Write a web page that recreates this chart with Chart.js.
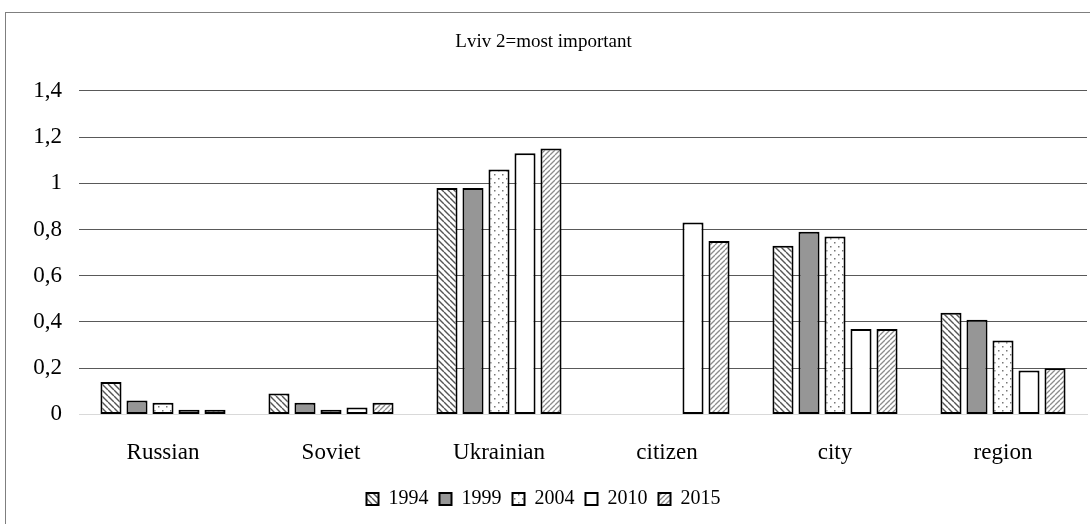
<!DOCTYPE html>
<html>
<head>
    <title>Lviv 2=most important</title>
    <script src="https://cdn.jsdelivr.net/npm/chart.js"></script>
    <style>
        body {
            margin: 0;
            background: #fff;
        }
        #chartContainer {
            position: relative;
            width: 1090px;
            height: 524px;
        }
    </style>
</head>
<body>
    <div id="chartContainer">
        <canvas id="myChart" width="1090" height="524"></canvas>
    </div>

    <script>
        // Values
        const categories = ['Russian', 'Soviet', 'Ukrainian', 'citizen', 'city', 'region'];
        const years = ['1994', '1999', '2004', '2010', '2015'];
        const v1994 = [0.14, 0.09, 0.98, null, 0.73, 0.44];
        const v1999 = [0.06, 0.05, 0.98, null, 0.79, 0.41];
        const v2004 = [0.05, 0.02, 1.06, null, 0.77, 0.32];
        const v2010 = [0.02, 0.03, 1.13, 0.83, 0.37, 0.19];
        const v2015 = [0.02, 0.05, 1.15, 0.75, 0.37, 0.20];
        const yTicks = [0, 0.2, 0.4, 0.6, 0.8, 1, 1.2, 1.4];

        const FONT = 'Liberation Serif, Times New Roman, serif';

        // small fill patterns for the bars
        function makePattern(kind) {
            const c = document.createElement('canvas');
            const size = kind === 'dots' ? 8 : (kind === 'up' ? 5 : 6);
            c.width = size;
            c.height = size;
            const g = c.getContext('2d');
            g.fillStyle = '#fff';
            g.fillRect(0, 0, size, size);
            if (kind === 'down') {
                g.strokeStyle = '#555';
                g.lineWidth = 1.4;
                g.beginPath();
                for (let o = -size; o <= size; o += size) {
                    g.moveTo(o, 0);
                    g.lineTo(o + size, size);
                }
                g.stroke();
            } else if (kind === 'up') {
                g.strokeStyle = '#8c8c8c';
                g.lineWidth = 1.3;
                g.beginPath();
                for (let o = 0; o <= 2 * size; o += size) {
                    g.moveTo(o, 0);
                    g.lineTo(o - size, size);
                }
                g.stroke();
            } else if (kind === 'dots') {
                g.fillStyle = '#777';
                g.fillRect(2, 2, 1.5, 1.5);
                g.fillRect(6, 6, 1.5, 1.5);
            }
            return g.createPattern(c, 'repeat');
        }

        const fills = [makePattern('down'), '#969696', makePattern('dots'), '#ffffff', makePattern('up')];
        const seriesValues = [v1994, v1999, v2004, v2010, v2015];

        const frame = {
            id: 'frame',
            beforeDraw(chart) {
                const ctx = chart.ctx;
                ctx.save();
                ctx.fillStyle = '#fff';
                ctx.fillRect(0, 0, chart.width, chart.height);
                ctx.strokeStyle = '#7f7f7f';
                ctx.lineWidth = 1;
                ctx.strokeRect(5.5, 12.5, 1200, 600);
                ctx.restore();
            }
        };

        const ctx = document.getElementById('myChart').getContext('2d');
        new Chart(ctx, {
            type: 'bar',
            data: {
                labels: categories,
                datasets: years.map((y, i) => ({
                    label: y,
                    data: seriesValues[i],
                    backgroundColor: fills[i],
                    borderColor: '#000',
                    borderWidth: 2,
                    borderSkipped: false,
                    categoryPercentage: 0.774,
                    barPercentage: 0.81
                }))
            },
            options: {
                responsive: false,
                animation: false,
                layout: {
                    padding: { left: 0, right: 3, top: 0, bottom: 5 }
                },
                plugins: {
                    title: {
                        display: true,
                        text: 'Lviv 2=most important',
                        color: '#000',
                        font: { family: FONT, size: 19, weight: 'normal' },
                        padding: { top: 31, bottom: 37 }
                    },
                    legend: {
                        position: 'bottom',
                        labels: {
                            color: '#000',
                            font: { family: FONT, size: 20 },
                            boxWidth: 12,
                            boxHeight: 12,
                            padding: 11
                        }
                    },
                    tooltip: { enabled: false }
                },
                scales: {
                    x: {
                        grid: { display: false, drawTicks: false },
                        border: { color: '#d9d9d9', width: 1 },
                        ticks: {
                            color: '#000',
                            font: { family: FONT, size: 23 },
                            padding: 25
                        },
                        afterFit(scale) {
                            scale.height -= 14;
                        }
                    },
                    y: {
                        min: 0,
                        max: 1.4,
                        afterBuildTicks(scale) {
                            scale.ticks = yTicks.map(v => ({ value: v }));
                        },
                        afterFit(scale) {
                            scale.width = 79;
                        },
                        grid: {
                            drawTicks: false,
                            color: c => (c.tick && c.tick.value === 0) ? '#d9d9d9' : '#595959'
                        },
                        border: { display: false },
                        ticks: {
                            color: '#000',
                            font: { family: FONT, size: 23 },
                            padding: 17,
                            callback: v => String(Math.round(v * 10) / 10).replace('.', ',')
                        }
                    }
                }
            },
            plugins: [frame]
        });
    </script>
</body>
</html>
